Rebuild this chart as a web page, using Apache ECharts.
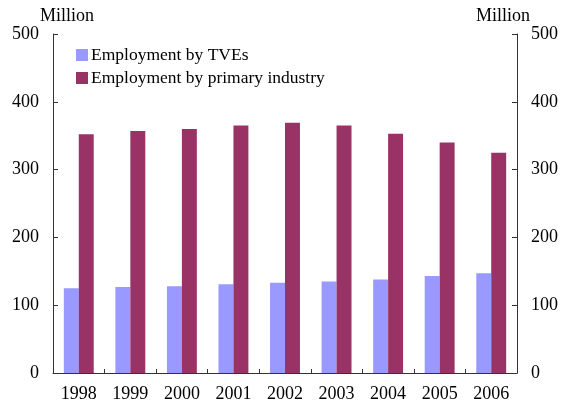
<!DOCTYPE html>
<html>
<head>
<meta charset="utf-8">
<script src="https://cdn.jsdelivr.net/npm/echarts@6/dist/echarts.min.js"></script>
<style>
  html, body { margin: 0; padding: 0; background: #fff; }
  #chart { width: 561px; height: 403px; }
</style>
</head>
<body>
<div id="chart"></div>
<script>
// years on the x axis
var years = ['1998', '1999', '2000', '2001', '2002', '2003', '2004', '2005', '2006'];
// employment, million persons
var tveEmployment = [125, 127, 128, 131, 133, 135, 138, 143, 147];
var primaryEmployment = [352, 357, 360, 365, 369, 365, 353, 340, 325];

var font = 'Liberation Serif, Times New Roman, serif';
var axisColor = '#333';

var chart = echarts.init(document.getElementById('chart'));

function valueAxis(pos) {
  return {
    type: 'value',
    position: pos,
    min: 0,
    max: 500,
    interval: 100,
    name: 'Million',
    nameLocation: 'end',
    nameGap: 9,
    nameTextStyle: {
      fontFamily: font,
      fontSize: 18,
      color: '#000',
      align: pos === 'left' ? 'center' : 'right',
      padding: pos === 'left' ? [0, 0, 0, 28] : [0, -13, 0, 0]
    },
    axisLine: { show: true, lineStyle: { color: axisColor, width: 1 } },
    axisTick: { show: true, inside: true, length: 5, lineStyle: { color: axisColor } },
    axisLabel: { fontFamily: font, fontSize: 18, color: '#000', margin: 14, padding: [3, 0, 0, 0] },
    splitLine: { show: false }
  };
}

var option = {
  animation: false,
  textStyle: { fontFamily: font },
  grid: { left: 53, right: 44, top: 34, bottom: 29 },
  legend: {
    orient: 'vertical',
    left: 71,
    top: 41,
    itemWidth: 12,
    itemHeight: 12,
    itemGap: 5,
    icon: 'rect',
    textStyle: { fontFamily: font, fontSize: 17.5, color: '#000', padding: [0, 0, 0, -2] },
    data: ['Employment by TVEs', 'Employment by primary industry']
  },
  xAxis: {
    type: 'category',
    data: years,
    axisLine: { lineStyle: { color: axisColor } },
    axisTick: { show: true, inside: true, length: 4, lineStyle: { color: axisColor } },
    axisLabel: { fontFamily: font, fontSize: 18, color: '#000', margin: 12 }
  },
  yAxis: [valueAxis('left'), valueAxis('right')],
  series: [
    {
      name: 'Employment by TVEs',
      type: 'bar',
      data: tveEmployment,
      barGap: '0%',
      barCategoryGap: '42%',
      itemStyle: { color: '#9999FF' }
    },
    {
      name: 'Employment by primary industry',
      type: 'bar',
      data: primaryEmployment,
      barGap: '0%',
      barCategoryGap: '42%',
      itemStyle: { color: '#993366' }
    }
  ]
};

chart.setOption(option);
</script>
</body>
</html>
